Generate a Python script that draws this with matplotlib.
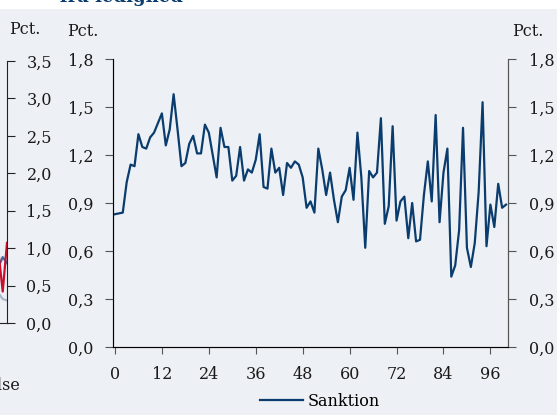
import numpy as np
import matplotlib
matplotlib.use('Agg')
import matplotlib.pyplot as plt
from matplotlib.patches import Rectangle

# Sanktion series, month 0..100 (pct.)
sanktion = [0.83, 0.835, 0.84, 1.03, 1.14, 1.13, 1.33, 1.25, 1.24, 1.31,
            1.34, 1.40, 1.46, 1.26, 1.36, 1.58, 1.36, 1.13, 1.15, 1.27,
            1.32, 1.21, 1.21, 1.39, 1.34, 1.20, 1.06, 1.37, 1.25, 1.25,
            1.04, 1.07, 1.25, 1.04, 1.11, 1.09, 1.17, 1.33, 1.00, 0.99,
            1.24, 1.09, 1.12, 0.95, 1.15, 1.12, 1.16, 1.14, 1.06, 0.87,
            0.91, 0.84, 1.24, 1.11, 0.95, 1.09, 0.92, 0.78, 0.94, 0.98,
            1.12, 0.92, 1.34, 1.06, 0.62, 1.10, 1.06, 1.09, 1.43, 0.77,
            0.88, 1.38, 0.79, 0.91, 0.94, 0.68, 0.90, 0.66, 0.67, 0.95,
            1.16, 0.91, 1.45, 0.78, 1.09, 1.24, 0.44, 0.51, 0.73, 1.37,
            0.62, 0.50, 0.65, 0.97, 1.53, 0.63, 0.89, 0.75, 1.02, 0.87,
            0.89]
months = np.arange(len(sanktion))
xticks = np.arange(0, 97, 12)
yticks = np.arange(0, 1.81, 0.3)

# tail of the neighbouring (cropped) panel
left_x = [97, 98.5, 100]
left_red = [0.95, 0.42, 1.07]
left_blue = [0.75, 0.88, 0.80]
left_pale = [0.40, 0.32, 0.30]
left_yticks = np.arange(0, 3.51, 0.5)

bg = '#edf0f4'
navy = '#0b3c6e'
axcol = '#555555'
txt = '#1a1a1a'

plt.rcParams['font.family'] = ['DejaVu Serif']
plt.rcParams['font.size'] = 11.5

def comma(v):
    return f'{v:.1f}'.replace('.', ',')

fig = plt.figure(figsize=(5.57, 4.15), dpi=100, facecolor='white')
fig.patches.append(Rectangle((0, 0), 1, 1 - 9 / 415, transform=fig.transFigure,
                             facecolor=bg, edgecolor='none', zorder=-10))
fig.text(60 / 557, 1 - 2 / 415, 'fra ledighed', color=navy, fontweight='bold',
         fontsize=13, ha='left', va='baseline')

# main panel
ax = fig.add_axes([113 / 557, 1 - 347 / 415, 395 / 557, 288 / 415])
ax.set_facecolor('none')
ax.plot(months, sanktion, color=navy, lw=1.6, label='Sanktion')
ax.set_xlim(-0.5, 100.5)
ax.set_ylim(0, 1.8)
ax.set_xticks(xticks)
ax.set_yticks(yticks)
ax.set_yticklabels([comma(v) for v in yticks])
ax.spines['top'].set_visible(False)
for s in ['left', 'right', 'bottom']:
    ax.spines[s].set_color(axcol)
ax.tick_params(axis='x', direction='out', length=5, color=axcol, pad=9, labelcolor=txt)
ax.tick_params(axis='y', direction='out', length=6, color=axcol, pad=8, labelcolor=txt)

ax2 = ax.twinx()
ax2.set_ylim(0, 1.8)
ax2.set_yticks(yticks)
ax2.set_yticklabels([comma(v) for v in yticks])
ax2.spines['top'].set_visible(False)
ax2.spines['right'].set_color(axcol)
ax2.tick_params(axis='y', direction='out', length=6, color=axcol, pad=9, labelcolor=txt)

fig.text(83 / 557, 1 - 31 / 415, 'Pct.', ha='center', va='center', color=txt)
fig.text(528 / 557, 1 - 31 / 415, 'Pct.', ha='center', va='center', color=txt)

fig.legend(handles=ax.get_lines(), loc='center', bbox_to_anchor=(320 / 557, 1 - 401 / 415),
           frameon=False, handlelength=2.7, handletextpad=0.3, fontsize=11.5)

# cropped neighbouring panel at the left edge
axl = fig.add_axes([-0.5, 1 - 323 / 415, 0.5 + 7 / 557, 262 / 415])
axl.set_facecolor('none')
axl.plot(left_x, left_pale, color='#a9b8c8', lw=1.6)
axl.plot(left_x, left_blue, color='#2f6ea5', lw=1.6)
axl.plot(left_x, left_red, color='#c8102e', lw=1.6)
axl.set_xlim(0, 100)
axl.set_ylim(0, 3.5)
axl.set_yticks(left_yticks)
axl.set_yticklabels([comma(v) for v in left_yticks])
axl.set_xticks([])
axl.yaxis.tick_right()
for s in ['left', 'top']:
    axl.spines[s].set_visible(False)
for s in ['right', 'bottom']:
    axl.spines[s].set_color('#222222')
axl.tick_params(axis='y', direction='out', length=6, color='#222222', pad=8, labelcolor=txt)
fig.text(25 / 557, 1 - 30 / 415, 'Pct.', ha='center', va='center', color=txt)
fig.text(20 / 557, 1 - 385 / 415, 'Afgang til beskæftigelse', ha='right', va='center', color=txt)

fig.savefig('out.png', dpi=100, facecolor=fig.get_facecolor())
